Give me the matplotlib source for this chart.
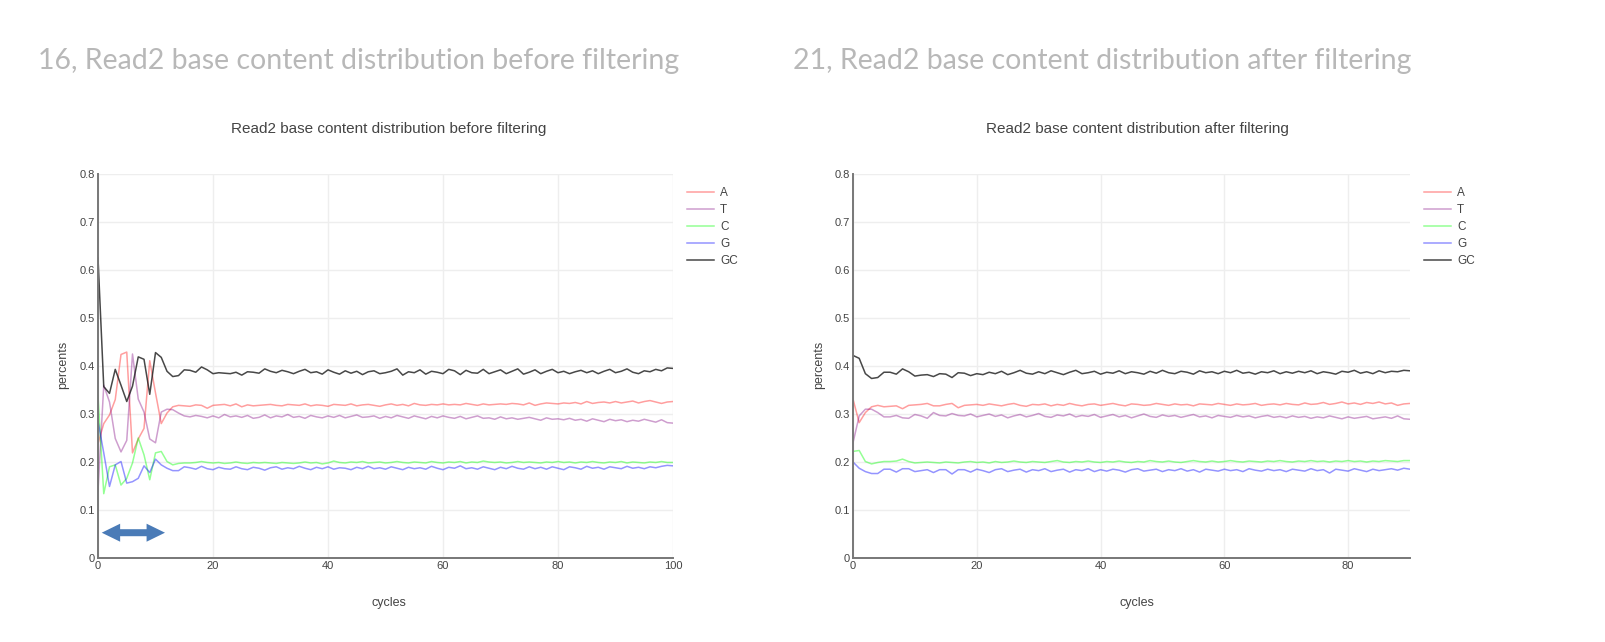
import numpy as np
import matplotlib
matplotlib.use("Agg")
import matplotlib.pyplot as plt
from matplotlib.patches import Polygon

# ---------------- data ----------------
series_names = ["A", "T", "C", "G", "GC"]

gc_before = [0.625, 0.357, 0.343, 0.393, 0.360, 0.326, 0.358, 0.419, 0.414, 0.341,
             0.428, 0.418, 0.389, 0.378, 0.380, 0.392, 0.391, 0.387, 0.398, 0.392,
             0.384, 0.386, 0.385, 0.384, 0.387, 0.381, 0.388, 0.387, 0.385, 0.394,
             0.389, 0.386, 0.391, 0.388, 0.384, 0.389, 0.393, 0.386, 0.388, 0.383,
             0.392, 0.387, 0.383, 0.390, 0.385, 0.389, 0.382, 0.388, 0.390, 0.384,
             0.386, 0.389, 0.394, 0.381, 0.388, 0.386, 0.392, 0.383, 0.389, 0.387,
             0.384, 0.393, 0.390, 0.382, 0.391, 0.386, 0.385, 0.393, 0.384, 0.388,
             0.392, 0.384, 0.389, 0.394, 0.383, 0.387, 0.392, 0.384, 0.389, 0.393,
             0.386, 0.389, 0.384, 0.388, 0.391, 0.386, 0.390, 0.384, 0.389, 0.393,
             0.386, 0.389, 0.394, 0.387, 0.384, 0.390, 0.388, 0.393, 0.390, 0.396, 0.395]

a_before = [0.238, 0.280, 0.298, 0.330, 0.424, 0.429, 0.219, 0.248, 0.270, 0.411,
            0.344, 0.280, 0.302, 0.315, 0.318, 0.317, 0.316, 0.319, 0.318, 0.312,
            0.318, 0.319, 0.320, 0.317, 0.321, 0.315, 0.319, 0.317, 0.318, 0.319,
            0.320, 0.318, 0.317, 0.320, 0.319, 0.318, 0.321, 0.317, 0.319, 0.318,
            0.316, 0.320, 0.319, 0.318, 0.321, 0.317, 0.319, 0.320, 0.318, 0.316,
            0.319, 0.321, 0.318, 0.320, 0.317, 0.322, 0.319, 0.318, 0.320, 0.319,
            0.321, 0.319, 0.320, 0.319, 0.322, 0.320, 0.318, 0.321, 0.319, 0.320,
            0.321, 0.320, 0.322, 0.321, 0.319, 0.323, 0.318, 0.321, 0.323, 0.322,
            0.321, 0.323, 0.322, 0.324, 0.321, 0.326, 0.322, 0.324, 0.325, 0.323,
            0.326, 0.323, 0.325, 0.327, 0.323, 0.326, 0.328, 0.325, 0.322, 0.325, 0.326]

t_before = [0.140, 0.360, 0.325, 0.249, 0.221, 0.245, 0.425, 0.331, 0.304, 0.248,
            0.240, 0.304, 0.310, 0.309, 0.302, 0.296, 0.294, 0.297, 0.295, 0.292,
            0.296, 0.292, 0.299, 0.294, 0.296, 0.293, 0.297, 0.291, 0.293, 0.298,
            0.292, 0.296, 0.294, 0.299, 0.293, 0.295, 0.291, 0.297, 0.294, 0.292,
            0.296, 0.293, 0.297, 0.292, 0.295, 0.298, 0.293, 0.294, 0.296, 0.291,
            0.295, 0.292, 0.297, 0.294, 0.291, 0.296, 0.293, 0.290, 0.295, 0.292,
            0.296, 0.293, 0.291, 0.295, 0.290, 0.293, 0.296, 0.291, 0.292, 0.289,
            0.294, 0.290, 0.292, 0.289, 0.291, 0.293, 0.290, 0.287, 0.292, 0.289,
            0.290, 0.288, 0.291, 0.287, 0.289, 0.285, 0.290, 0.287, 0.284, 0.289,
            0.286, 0.288, 0.284, 0.287, 0.285, 0.289, 0.286, 0.283, 0.288, 0.282, 0.281]

c_before = [0.338, 0.134, 0.190, 0.194, 0.152, 0.166, 0.198, 0.250, 0.215, 0.163,
            0.219, 0.222, 0.201, 0.194, 0.197, 0.198, 0.198, 0.199, 0.201, 0.199,
            0.198, 0.199, 0.197, 0.198, 0.200, 0.198, 0.197, 0.199, 0.198, 0.199,
            0.198, 0.197, 0.199, 0.198, 0.197, 0.198, 0.200, 0.198, 0.199, 0.196,
            0.198, 0.202, 0.199, 0.198, 0.200, 0.199, 0.201, 0.198, 0.199, 0.200,
            0.198, 0.199, 0.201, 0.199, 0.198, 0.200, 0.199, 0.198, 0.201, 0.199,
            0.198, 0.200, 0.199, 0.201, 0.198, 0.200, 0.199, 0.202, 0.200, 0.199,
            0.200, 0.198, 0.199, 0.201, 0.199, 0.200, 0.199, 0.198, 0.200, 0.199,
            0.201, 0.199, 0.200, 0.198, 0.200, 0.199, 0.201, 0.199, 0.198, 0.200,
            0.199, 0.201, 0.198, 0.200, 0.199, 0.198, 0.200, 0.199, 0.201, 0.199, 0.199]

g_before = [0.285, 0.219, 0.149, 0.194, 0.201, 0.156, 0.159, 0.166, 0.192, 0.178,
            0.206, 0.194, 0.187, 0.182, 0.182, 0.190, 0.188, 0.185, 0.191, 0.186,
            0.184, 0.189, 0.186, 0.185, 0.190, 0.186, 0.184, 0.189, 0.187, 0.183,
            0.188, 0.190, 0.185, 0.188, 0.186, 0.191, 0.187, 0.184, 0.189, 0.186,
            0.190, 0.185, 0.188, 0.187, 0.184, 0.189, 0.186, 0.191, 0.186, 0.188,
            0.185, 0.190, 0.187, 0.184, 0.189, 0.186, 0.188, 0.185, 0.191, 0.187,
            0.184, 0.189, 0.187, 0.192, 0.186, 0.188, 0.185, 0.190, 0.187, 0.184,
            0.189, 0.186, 0.191, 0.187, 0.185, 0.190, 0.186, 0.189, 0.185, 0.190,
            0.187, 0.184, 0.190, 0.188, 0.185, 0.191, 0.187, 0.189, 0.185, 0.190,
            0.188, 0.186, 0.191, 0.187, 0.189, 0.186, 0.190, 0.188, 0.191, 0.193, 0.192]

gc_after = [0.422, 0.416, 0.384, 0.374, 0.376, 0.387, 0.387, 0.383, 0.394, 0.388,
            0.379, 0.381, 0.382, 0.378, 0.384, 0.383, 0.376, 0.386, 0.385, 0.380,
            0.384, 0.382, 0.387, 0.384, 0.389, 0.382, 0.386, 0.391, 0.385, 0.383,
            0.388, 0.384, 0.390, 0.386, 0.382, 0.387, 0.391, 0.384, 0.386, 0.389,
            0.383, 0.387, 0.385, 0.390, 0.384, 0.388, 0.386, 0.383, 0.389, 0.385,
            0.391, 0.386, 0.384, 0.389, 0.387, 0.383, 0.390, 0.386, 0.388, 0.384,
            0.389, 0.386, 0.391, 0.385, 0.387, 0.383, 0.388, 0.386, 0.390, 0.384,
            0.388, 0.385, 0.389, 0.386, 0.390, 0.384, 0.388, 0.386, 0.383, 0.389,
            0.387, 0.391, 0.385, 0.388, 0.384, 0.390, 0.386, 0.389, 0.388, 0.391, 0.390]

a_after = [0.331, 0.282, 0.303, 0.315, 0.318, 0.315, 0.316, 0.317, 0.311, 0.318,
           0.319, 0.320, 0.322, 0.317, 0.317, 0.320, 0.322, 0.313, 0.318, 0.319,
           0.320, 0.318, 0.321, 0.319, 0.317, 0.320, 0.322, 0.318, 0.316, 0.320,
           0.319, 0.321, 0.317, 0.320, 0.318, 0.322, 0.319, 0.317, 0.320, 0.321,
           0.318, 0.320, 0.322, 0.319, 0.317, 0.321, 0.320, 0.318, 0.319, 0.322,
           0.320, 0.318, 0.321, 0.319, 0.320, 0.317, 0.321, 0.320, 0.319, 0.322,
           0.320, 0.318, 0.321, 0.319, 0.320, 0.322, 0.318, 0.320, 0.321, 0.319,
           0.322, 0.320, 0.319, 0.323, 0.320, 0.321, 0.324, 0.320, 0.322, 0.325,
           0.321, 0.323, 0.320, 0.324, 0.322, 0.325, 0.321, 0.323, 0.318, 0.321, 0.322]

t_after = [0.240, 0.296, 0.310, 0.310, 0.303, 0.294, 0.294, 0.297, 0.292, 0.291,
           0.299, 0.296, 0.291, 0.303, 0.297, 0.296, 0.301, 0.297, 0.296, 0.300,
           0.294, 0.297, 0.300, 0.295, 0.298, 0.292, 0.296, 0.299, 0.294, 0.297,
           0.301, 0.295, 0.293, 0.298, 0.296, 0.300, 0.294, 0.297, 0.295, 0.299,
           0.293, 0.296, 0.299, 0.294, 0.297, 0.292, 0.296, 0.300, 0.295, 0.293,
           0.298, 0.295, 0.297, 0.293, 0.296, 0.299, 0.294, 0.296, 0.292, 0.297,
           0.295, 0.293, 0.297, 0.294, 0.296, 0.292, 0.295, 0.297, 0.293, 0.295,
           0.292, 0.296, 0.293, 0.295, 0.291, 0.294, 0.292, 0.296, 0.293, 0.290,
           0.294, 0.291, 0.293, 0.295, 0.290, 0.292, 0.294, 0.291, 0.296, 0.290, 0.289]

c_after = [0.222, 0.224, 0.201, 0.196, 0.199, 0.201, 0.201, 0.202, 0.206, 0.201,
           0.198, 0.199, 0.200, 0.199, 0.198, 0.200, 0.199, 0.198, 0.200, 0.201,
           0.199, 0.200, 0.198, 0.201, 0.199, 0.200, 0.202, 0.200, 0.199, 0.201,
           0.200, 0.199, 0.201, 0.203, 0.200, 0.199, 0.201, 0.200, 0.202, 0.200,
           0.199, 0.201, 0.200, 0.202, 0.200, 0.199, 0.201, 0.200, 0.203, 0.201,
           0.200, 0.202, 0.200, 0.199, 0.201, 0.203, 0.201, 0.200, 0.202, 0.200,
           0.201, 0.203, 0.201, 0.200, 0.202, 0.201, 0.200, 0.202, 0.201, 0.203,
           0.201, 0.200, 0.202, 0.201, 0.203, 0.201, 0.202, 0.200, 0.202, 0.201,
           0.203, 0.201, 0.202, 0.200, 0.202, 0.201, 0.203, 0.202, 0.201, 0.203, 0.203]

g_after = [0.200, 0.187, 0.180, 0.176, 0.176, 0.185, 0.185, 0.179, 0.186, 0.186,
           0.180, 0.182, 0.184, 0.178, 0.184, 0.184, 0.175, 0.184, 0.184, 0.179,
           0.185, 0.182, 0.178, 0.184, 0.186, 0.180, 0.183, 0.185, 0.179, 0.184,
           0.182, 0.186, 0.180, 0.183, 0.185, 0.179, 0.184, 0.182, 0.186, 0.180,
           0.184, 0.181, 0.185, 0.183, 0.179, 0.184, 0.186, 0.181, 0.183, 0.185,
           0.180, 0.184, 0.182, 0.186, 0.181, 0.184, 0.179, 0.185, 0.183, 0.181,
           0.185, 0.182, 0.184, 0.180, 0.186, 0.183, 0.181, 0.185, 0.182, 0.184,
           0.180, 0.185, 0.183, 0.181, 0.186, 0.182, 0.184, 0.177, 0.185, 0.183,
           0.181, 0.186, 0.183, 0.180, 0.185, 0.182, 0.184, 0.186, 0.183, 0.187, 0.185]

y_ticks = [0, 0.1, 0.2, 0.3, 0.4, 0.5, 0.6, 0.7, 0.8]
y_tick_labels = ["0", "0.1", "0.2", "0.3", "0.4", "0.5", "0.6", "0.7", "0.8"]
x_ticks_before = [0, 20, 40, 60, 80, 100]
x_ticks_after = [0, 20, 40, 60, 80]

headers = ["16, Read2 base content distribution before filtering",
           "21, Read2 base content distribution after filtering"]
titles = ["Read2 base content distribution before filtering",
          "Read2 base content distribution after filtering"]

# ---------------- style ----------------
colors = {
    "A": (1.0, 0.0, 0.0, 0.38),
    "T": (0.5, 0.0, 0.5, 0.38),
    "C": (0.0, 1.0, 0.0, 0.42),
    "G": (0.0, 0.0, 1.0, 0.42),
    "GC": (0.1, 0.1, 0.1, 0.8),
}
TXT = "#444444"
W, H = 1606, 642

plt.rcParams["font.family"] = ["Liberation Sans", "DejaVu Sans"]

fig = plt.figure(figsize=(W / 100, H / 100), dpi=100)
fig.patch.set_facecolor("white")


def px_axes(x0, x1, ytop, ybot):
    return [x0 / W, 1 - ybot / H, (x1 - x0) / W, (ybot - ytop) / H]


def double_arrow(ax, x0, x1, yc, shaft_h, head_h, head_len, color):
    pts = [(x0, yc), (x0 + head_len, yc + head_h / 2), (x0 + head_len, yc + shaft_h / 2),
           (x1 - head_len, yc + shaft_h / 2), (x1 - head_len, yc + head_h / 2), (x1, yc),
           (x1 - head_len, yc - head_h / 2), (x1 - head_len, yc - shaft_h / 2),
           (x0 + head_len, yc - shaft_h / 2), (x0 + head_len, yc - head_h / 2)]
    ax.add_patch(Polygon(pts, closed=True, facecolor=color, edgecolor="none", zorder=5))


panels = [
    dict(rect=px_axes(98, 673, 174, 558), xmax=100, xticks=x_ticks_before,
         data=[a_before, t_before, c_before, g_before, gc_before],
         header_x=38, title_x=389, arrow=True),
    dict(rect=px_axes(853, 1410, 174, 558), xmax=90, xticks=x_ticks_after,
         data=[a_after, t_after, c_after, g_after, gc_after],
         header_x=793, title_x=1137, arrow=False),
]

for i, p in enumerate(panels):
    ax = fig.add_axes(p["rect"])
    for name, vals in zip(series_names, p["data"]):
        ax.plot(np.arange(len(vals)), vals, color=colors[name], lw=1.1,
                label=name, solid_joinstyle="round")
    ax.set_xlim(0, p["xmax"])
    ax.set_ylim(0, 0.8)
    ax.set_yticks(y_ticks)
    ax.set_yticklabels(y_tick_labels)
    ax.set_xticks(p["xticks"])
    ax.set_xticklabels([str(t) for t in p["xticks"]])
    ax.grid(True, color="#eeeeee", lw=1.0)
    ax.set_axisbelow(True)
    for s in ["top", "right"]:
        ax.spines[s].set_visible(False)
    for s in ["left", "bottom"]:
        ax.spines[s].set_color("#777777")
        ax.spines[s].set_linewidth(1.4)
    ax.tick_params(axis="both", length=0, labelsize=8, labelcolor=TXT, pad=2.5)
    xc = 0.5 + (p["title_x"] - (p["rect"][0] * W + p["rect"][2] * W / 2)) / (p["rect"][2] * W)
    ax.set_xlabel("cycles", fontsize=9, color=TXT)
    ax.xaxis.set_label_coords(xc, -0.102)
    ax.set_ylabel("percents", fontsize=9, color=TXT)
    ax.yaxis.set_label_coords(-0.05, 0.503)
    ax.text(xc, 1.118, titles[i], transform=ax.transAxes, ha="center", va="center",
            fontsize=11, color=TXT)
    leg = ax.legend(loc="upper left", bbox_to_anchor=(1.008, 0.99), frameon=False,
                    fontsize=8.5, handlelength=2.3, handletextpad=0.5,
                    labelspacing=0.42, borderaxespad=0.0, borderpad=0.8)
    for t in leg.get_texts():
        t.set_color(TXT)
    fig.text(p["header_x"] / W, 1 - 69 / H, headers[i], fontsize=20.5,
             family=["Lato", "Open Sans", "DejaVu Sans"], color="#b8b8b8",
             ha="left", va="baseline")
    if p["arrow"]:
        double_arrow(ax, 0.65, 11.65, 0.0527, 0.0146, 0.0375, 3.2, "#4a7bb7")

fig.savefig("out.png", dpi=100, facecolor="white")
